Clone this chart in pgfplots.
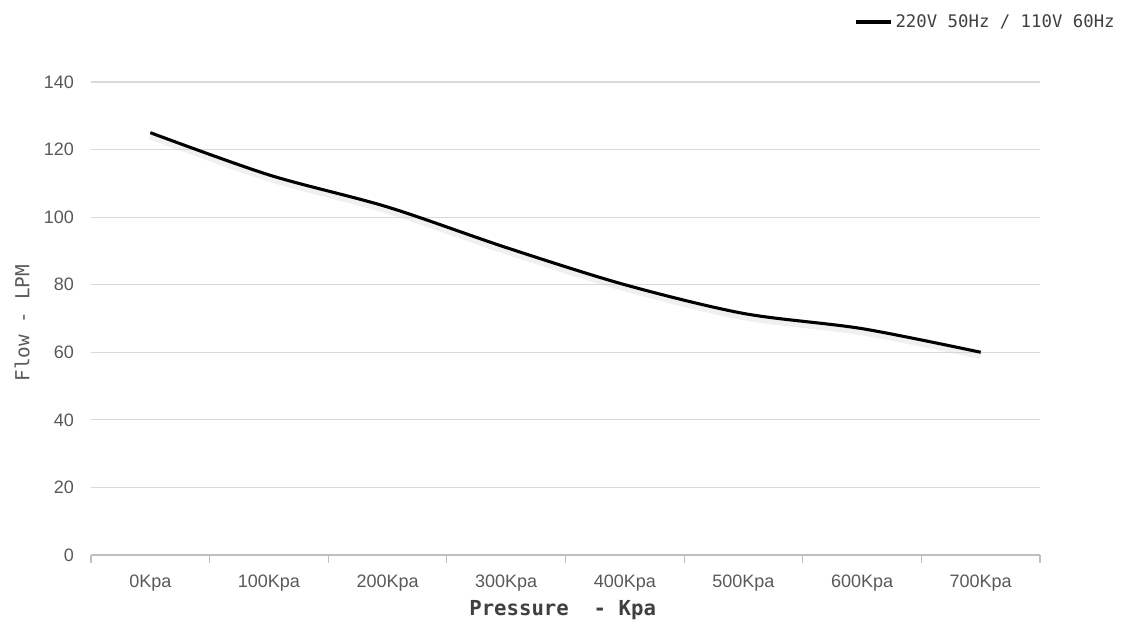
\documentclass[border=0pt]{standalone}
\usepackage{pgfplots}
\pgfplotsset{compat=1.18}
\usepackage{fontspec}
\setmainfont{Liberation Sans}
\setmonofont{DejaVu Sans Mono}
\definecolor{gridc}{HTML}{D9D9D9}
\definecolor{axisc}{HTML}{BFBFBF}
\definecolor{tickc}{HTML}{595959}
\definecolor{titlec}{HTML}{404040}
\begin{document}
\begin{tikzpicture}
\path[use as bounding box] (0,0) rectangle (846pt,467.25pt);
\begin{axis}[
  at={(68.25pt,51pt)}, anchor=south west,
  scale only axis, width=711.75pt, height=354.75pt,
  xmin=-0.5, xmax=7.5, ymin=0, ymax=140,
  /pgf/number format/assume math mode=true,
  xtick={0,...,7},
  xticklabels={0Kpa,100Kpa,200Kpa,300Kpa,400Kpa,500Kpa,600Kpa,700Kpa},
  minor xtick={-0.5,0.5,...,7.5},
  major x tick style={draw=none},
  minor x tick style={draw=axisc, line width=0.8pt},
  minor tick length=6pt,
  tick align=outside,
  ytick={0,20,...,140},
  ytick style={draw=none},
  axis x line*=bottom,
  axis y line*=left,
  y axis line style={draw=none},
  x axis line style={draw=axisc, line width=0.8pt, -},
  ymajorgrids,
  grid style={draw=gridc, line width=0.8pt},
  tick label style={font=\fontsize{13.5}{14}\selectfont, text=tickc},
  xticklabel style={yshift=-7pt},
  yticklabel style={xshift=-5pt},
  xlabel={Pressure\ \ -\ Kpa},
  ylabel={Flow - LPM},
  xlabel style={at={(axis description cs:0.497,-0.1163)}, anchor=center,
    font=\ttfamily\bfseries\fontsize{15.5}{16}\selectfont, text=titlec},
  ylabel style={at={(axis description cs:-0.0727,0.49)}, anchor=center,
    font=\ttfamily\fontsize{14.5}{15}\selectfont, text=tickc},
  legend style={at={(axis description cs:1.086,1.127)}, anchor=east,
    draw=none, fill=none, font=\ttfamily\fontsize{13}{14}\selectfont,
    text=titlec},
  legend image code/.code={\draw[#1, line width=2.6pt] (0pt,0pt) -- (26pt,0pt);},
  clip=false,
]
\addplot[smooth, draw=black!20, line width=6pt, opacity=0.3, yshift=-2pt, forget plot]
  coordinates {(0,125) (1,112.5) (2,103) (3,91) (4,80) (5,71.5) (6,67) (7,60)};
\addplot[smooth, black, line width=2.3pt]
  coordinates {(0,125) (1,112.5) (2,103) (3,91) (4,80) (5,71.5) (6,67) (7,60)};
\addlegendentry{220V 50Hz / 110V 60Hz}
\end{axis}
\end{tikzpicture}
\end{document}
